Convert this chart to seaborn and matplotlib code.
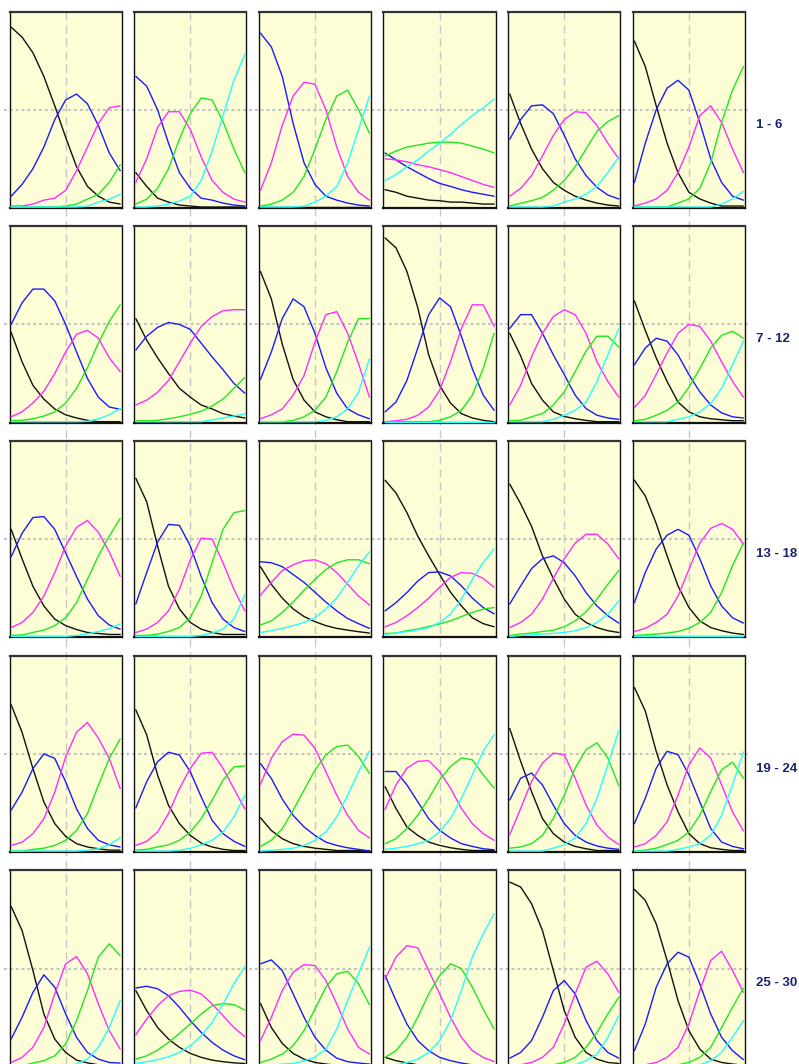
import matplotlib
matplotlib.use('Agg')
import matplotlib.pyplot as plt
import seaborn as sns
from matplotlib.lines import Line2D
from matplotlib.patches import Rectangle

# ability grid shared by all 30 items
THETA = [-3.0, -2.4, -1.8, -1.2, -0.6, 0.0, 0.6, 1.2, 1.8, 2.4, 3.0]
ROW_LABELS = ['1 - 6', '7 - 12', '13 - 18', '19 - 24', '25 - 30']

# category response curves, one list per item (items 1..30)
BLACK = [
    [0.92, 0.87, 0.79, 0.67, 0.52, 0.36, 0.21, 0.11, 0.06, 0.03, 0.02],
    [0.18, 0.11, 0.05, 0.03, 0.015, 0.01, 0.005, 0.005, 0.005, 0.005, 0.005],
    [0.005, 0.005, 0.005, 0.005, 0.005, 0.005, 0.005, 0.005, 0.005, 0.005, 0.005],
    [0.093, 0.08, 0.06, 0.05, 0.04, 0.037, 0.03, 0.03, 0.025, 0.02, 0.02],
    [0.58, 0.43, 0.30, 0.20, 0.13, 0.09, 0.06, 0.04, 0.025, 0.015, 0.01],
    [0.85, 0.72, 0.52, 0.33, 0.18, 0.08, 0.046, 0.025, 0.01, 0.01, 0.01],
    [0.46, 0.31, 0.19, 0.12, 0.07, 0.04, 0.024, 0.012, 0.005, 0.005, 0.005],
    [0.53, 0.42, 0.33, 0.25, 0.175, 0.13, 0.09, 0.07, 0.046, 0.034, 0.024],
    [0.77, 0.63, 0.40, 0.22, 0.115, 0.055, 0.03, 0.015, 0.005, 0.005, 0.005],
    [0.94, 0.89, 0.77, 0.585, 0.345, 0.19, 0.10, 0.046, 0.024, 0.012, 0.005],
    [0.455, 0.34, 0.20, 0.115, 0.055, 0.032, 0.02, 0.012, 0.005, 0.005, 0.005],
    [0.62, 0.47, 0.33, 0.21, 0.105, 0.055, 0.03, 0.02, 0.015, 0.01, 0.01],
    [0.55, 0.40, 0.26, 0.16, 0.093, 0.06, 0.04, 0.025, 0.02, 0.015, 0.015],
    [0.81, 0.69, 0.465, 0.26, 0.145, 0.076, 0.042, 0.025, 0.015, 0.015, 0.015],
    [0.36, 0.27, 0.20, 0.145, 0.106, 0.08, 0.06, 0.046, 0.037, 0.029, 0.022],
    [0.80, 0.735, 0.635, 0.515, 0.415, 0.32, 0.23, 0.16, 0.10, 0.07, 0.054],
    [0.78, 0.68, 0.565, 0.415, 0.30, 0.195, 0.118, 0.076, 0.05, 0.034, 0.025],
    [0.80, 0.72, 0.58, 0.415, 0.262, 0.152, 0.084, 0.05, 0.034, 0.022, 0.015],
    [0.75, 0.61, 0.425, 0.255, 0.145, 0.08, 0.043, 0.026, 0.017, 0.01, 0.01],
    [0.724, 0.597, 0.392, 0.238, 0.145, 0.085, 0.046, 0.026, 0.014, 0.008, 0.008],
    [0.175, 0.11, 0.068, 0.043, 0.029, 0.02, 0.014, 0.008, 0.008, 0.008, 0.008],
    [0.333, 0.222, 0.128, 0.085, 0.051, 0.034, 0.022, 0.014, 0.008, 0.008, 0.008],
    [0.629, 0.462, 0.308, 0.171, 0.094, 0.051, 0.029, 0.017, 0.008, 0.008, 0.008],
    [0.838, 0.718, 0.513, 0.342, 0.205, 0.094, 0.043, 0.022, 0.014, 0.008, 0.008],
    [0.816, 0.694, 0.49, 0.269, 0.141, 0.073, 0.034, 0.02, 0.01, 0.005, 0.005],
    [0.388, 0.286, 0.2, 0.141, 0.099, 0.068, 0.048, 0.034, 0.026, 0.02, 0.017],
    [0.323, 0.2, 0.119, 0.068, 0.039, 0.022, 0.014, 0.008, 0.008, 0.008, 0.008],
    [0.048, 0.031, 0.02, 0.01, 0.005, 0.005, 0.005, 0.005, 0.005, 0.005, 0.005],
    [0.94, 0.915, 0.83, 0.694, 0.49, 0.286, 0.15, 0.073, 0.039, 0.022, 0.017],
    [0.903, 0.847, 0.728, 0.541, 0.337, 0.184, 0.09, 0.039, 0.022, 0.014, 0.008],
]

BLUE = [
    [0.06, 0.12, 0.20, 0.31, 0.45, 0.55, 0.58, 0.53, 0.42, 0.28, 0.19],
    [0.67, 0.62, 0.50, 0.33, 0.18, 0.10, 0.05, 0.04, 0.025, 0.015, 0.01],
    [0.89, 0.82, 0.67, 0.43, 0.23, 0.12, 0.06, 0.04, 0.025, 0.015, 0.01],
    [0.28, 0.245, 0.21, 0.18, 0.15, 0.125, 0.11, 0.093, 0.08, 0.07, 0.06],
    [0.35, 0.45, 0.52, 0.525, 0.48, 0.37, 0.25, 0.165, 0.105, 0.066, 0.046],
    [0.13, 0.33, 0.50, 0.61, 0.65, 0.60, 0.435, 0.25, 0.13, 0.06, 0.04],
    [0.50, 0.61, 0.68, 0.68, 0.62, 0.50, 0.36, 0.225, 0.13, 0.08, 0.068],
    [0.37, 0.44, 0.485, 0.51, 0.50, 0.475, 0.405, 0.335, 0.27, 0.20, 0.15],
    [0.22, 0.36, 0.53, 0.63, 0.59, 0.455, 0.28, 0.15, 0.07, 0.04, 0.02],
    [0.055, 0.105, 0.215, 0.38, 0.55, 0.635, 0.59, 0.44, 0.275, 0.14, 0.063],
    [0.48, 0.55, 0.55, 0.455, 0.345, 0.245, 0.14, 0.072, 0.038, 0.024, 0.017],
    [0.295, 0.38, 0.43, 0.415, 0.345, 0.245, 0.157, 0.09, 0.05, 0.03, 0.024],
    [0.41, 0.53, 0.61, 0.615, 0.55, 0.43, 0.31, 0.195, 0.11, 0.063, 0.042],
    [0.17, 0.33, 0.485, 0.575, 0.57, 0.465, 0.31, 0.177, 0.093, 0.05, 0.03],
    [0.385, 0.38, 0.36, 0.32, 0.28, 0.23, 0.18, 0.135, 0.096, 0.07, 0.046],
    [0.135, 0.177, 0.228, 0.287, 0.33, 0.333, 0.313, 0.262, 0.20, 0.152, 0.12],
    [0.17, 0.262, 0.35, 0.40, 0.415, 0.38, 0.313, 0.228, 0.16, 0.11, 0.073],
    [0.177, 0.33, 0.45, 0.52, 0.55, 0.52, 0.40, 0.262, 0.16, 0.10, 0.073],
    [0.213, 0.305, 0.425, 0.50, 0.477, 0.358, 0.22, 0.12, 0.06, 0.037, 0.026],
    [0.225, 0.358, 0.46, 0.508, 0.494, 0.409, 0.281, 0.162, 0.094, 0.055, 0.029],
    [0.451, 0.375, 0.27, 0.187, 0.128, 0.085, 0.051, 0.034, 0.022, 0.014, 0.005],
    [0.41, 0.41, 0.342, 0.256, 0.17, 0.111, 0.072, 0.043, 0.029, 0.017, 0.012],
    [0.265, 0.376, 0.402, 0.342, 0.239, 0.145, 0.085, 0.051, 0.031, 0.02, 0.014],
    [0.145, 0.274, 0.427, 0.513, 0.496, 0.393, 0.256, 0.12, 0.051, 0.029, 0.017],
    [0.141, 0.252, 0.379, 0.468, 0.405, 0.269, 0.15, 0.073, 0.039, 0.022, 0.019],
    [0.401, 0.41, 0.397, 0.362, 0.303, 0.235, 0.175, 0.124, 0.085, 0.056, 0.036],
    [0.524, 0.544, 0.49, 0.371, 0.252, 0.15, 0.085, 0.044, 0.026, 0.019, 0.014],
    [0.464, 0.337, 0.218, 0.133, 0.082, 0.048, 0.031, 0.019, 0.01, 0.005, 0.005],
    [0.044, 0.073, 0.133, 0.252, 0.388, 0.439, 0.371, 0.235, 0.133, 0.073, 0.044],
    [0.082, 0.218, 0.405, 0.524, 0.583, 0.558, 0.422, 0.269, 0.15, 0.082, 0.036],
]

MAGENTA = [
    [0.01, 0.01, 0.02, 0.04, 0.05, 0.09, 0.19, 0.31, 0.43, 0.51, 0.52],
    [0.13, 0.25, 0.41, 0.49, 0.49, 0.40, 0.26, 0.14, 0.08, 0.045, 0.03],
    [0.09, 0.23, 0.42, 0.57, 0.64, 0.63, 0.50, 0.31, 0.16, 0.08, 0.04],
    [0.25, 0.245, 0.235, 0.22, 0.21, 0.195, 0.18, 0.16, 0.14, 0.12, 0.105],
    [0.06, 0.10, 0.165, 0.265, 0.37, 0.45, 0.49, 0.485, 0.42, 0.33, 0.25],
    [0.01, 0.025, 0.046, 0.09, 0.18, 0.31, 0.47, 0.52, 0.435, 0.30, 0.18],
    [0.03, 0.055, 0.10, 0.16, 0.25, 0.36, 0.45, 0.47, 0.43, 0.33, 0.26],
    [0.09, 0.115, 0.155, 0.215, 0.31, 0.405, 0.49, 0.54, 0.57, 0.575, 0.575],
    [0.02, 0.04, 0.07, 0.14, 0.24, 0.41, 0.55, 0.565, 0.455, 0.30, 0.13],
    [0.005, 0.01, 0.017, 0.038, 0.08, 0.165, 0.31, 0.48, 0.60, 0.60, 0.49],
    [0.09, 0.19, 0.335, 0.455, 0.54, 0.575, 0.55, 0.455, 0.31, 0.21, 0.13],
    [0.077, 0.14, 0.245, 0.355, 0.455, 0.50, 0.49, 0.415, 0.31, 0.21, 0.13],
    [0.05, 0.076, 0.127, 0.21, 0.33, 0.465, 0.56, 0.595, 0.535, 0.435, 0.31],
    [0.025, 0.042, 0.076, 0.135, 0.245, 0.395, 0.505, 0.50, 0.38, 0.245, 0.135],
    [0.215, 0.28, 0.34, 0.37, 0.39, 0.395, 0.375, 0.33, 0.27, 0.21, 0.165],
    [0.054, 0.076, 0.11, 0.152, 0.20, 0.255, 0.305, 0.33, 0.326, 0.30, 0.255],
    [0.05, 0.076, 0.118, 0.195, 0.30, 0.40, 0.48, 0.525, 0.525, 0.475, 0.40],
    [0.03, 0.046, 0.076, 0.118, 0.21, 0.345, 0.48, 0.555, 0.58, 0.55, 0.475],
    [0.034, 0.05, 0.094, 0.17, 0.305, 0.485, 0.61, 0.66, 0.58, 0.477, 0.323],
    [0.034, 0.055, 0.102, 0.196, 0.323, 0.426, 0.503, 0.508, 0.426, 0.323, 0.22],
    [0.344, 0.477, 0.562, 0.60, 0.595, 0.528, 0.409, 0.29, 0.187, 0.11, 0.072],
    [0.217, 0.342, 0.427, 0.462, 0.465, 0.41, 0.325, 0.222, 0.145, 0.094, 0.06],
    [0.089, 0.222, 0.359, 0.453, 0.504, 0.496, 0.376, 0.239, 0.137, 0.077, 0.038],
    [0.026, 0.043, 0.085, 0.154, 0.29, 0.444, 0.53, 0.479, 0.342, 0.205, 0.108],
    [0.022, 0.048, 0.099, 0.2, 0.371, 0.524, 0.561, 0.473, 0.32, 0.184, 0.09],
    [0.163, 0.243, 0.311, 0.362, 0.384, 0.39, 0.371, 0.32, 0.26, 0.2, 0.153],
    [0.133, 0.252, 0.388, 0.481, 0.52, 0.515, 0.439, 0.32, 0.192, 0.099, 0.065],
    [0.447, 0.558, 0.617, 0.605, 0.49, 0.371, 0.252, 0.15, 0.082, 0.048, 0.027],
    [0.005, 0.01, 0.022, 0.048, 0.099, 0.218, 0.371, 0.507, 0.537, 0.473, 0.379],
    [0.005, 0.01, 0.022, 0.048, 0.099, 0.218, 0.388, 0.541, 0.588, 0.49, 0.379],
]

GREEN = [
    [0.005, 0.005, 0.005, 0.005, 0.005, 0.01, 0.02, 0.045, 0.07, 0.13, 0.22],
    [0.02, 0.045, 0.10, 0.20, 0.35, 0.48, 0.56, 0.55, 0.44, 0.30, 0.18],
    [0.01, 0.02, 0.04, 0.08, 0.16, 0.30, 0.45, 0.57, 0.60, 0.50, 0.38],
    [0.265, 0.29, 0.31, 0.32, 0.33, 0.335, 0.335, 0.33, 0.315, 0.30, 0.28],
    [0.01, 0.024, 0.037, 0.054, 0.09, 0.14, 0.21, 0.30, 0.39, 0.44, 0.47],
    [0.005, 0.005, 0.005, 0.005, 0.025, 0.046, 0.10, 0.23, 0.435, 0.60, 0.72],
    [0.01, 0.012, 0.02, 0.034, 0.055, 0.10, 0.175, 0.28, 0.405, 0.515, 0.60],
    [0.01, 0.01, 0.012, 0.02, 0.03, 0.043, 0.058, 0.085, 0.12, 0.175, 0.23],
    [0.005, 0.005, 0.005, 0.012, 0.03, 0.063, 0.13, 0.26, 0.41, 0.53, 0.53],
    [0.005, 0.005, 0.005, 0.005, 0.005, 0.012, 0.03, 0.063, 0.14, 0.275, 0.455],
    [0.01, 0.012, 0.03, 0.046, 0.09, 0.157, 0.26, 0.365, 0.44, 0.44, 0.385],
    [0.01, 0.017, 0.038, 0.063, 0.105, 0.18, 0.275, 0.38, 0.445, 0.465, 0.43],
    [0.01, 0.012, 0.025, 0.037, 0.06, 0.10, 0.177, 0.295, 0.415, 0.515, 0.605],
    [0.01, 0.01, 0.017, 0.03, 0.05, 0.10, 0.21, 0.38, 0.55, 0.635, 0.645],
    [0.063, 0.084, 0.127, 0.18, 0.24, 0.295, 0.345, 0.38, 0.395, 0.395, 0.375],
    [0.02, 0.022, 0.034, 0.042, 0.056, 0.068, 0.084, 0.106, 0.127, 0.144, 0.152],
    [0.01, 0.017, 0.022, 0.03, 0.037, 0.054, 0.084, 0.13, 0.195, 0.27, 0.34],
    [0.01, 0.013, 0.017, 0.022, 0.03, 0.046, 0.076, 0.127, 0.228, 0.365, 0.48],
    [0.005, 0.005, 0.014, 0.02, 0.034, 0.06, 0.11, 0.196, 0.34, 0.477, 0.575],
    [0.01, 0.014, 0.026, 0.037, 0.06, 0.102, 0.17, 0.264, 0.366, 0.434, 0.438],
    [0.029, 0.06, 0.119, 0.213, 0.315, 0.418, 0.494, 0.537, 0.545, 0.486, 0.40],
    [0.043, 0.068, 0.12, 0.188, 0.273, 0.368, 0.436, 0.479, 0.47, 0.393, 0.325],
    [0.02, 0.026, 0.043, 0.085, 0.171, 0.29, 0.427, 0.521, 0.556, 0.479, 0.338],
    [0.005, 0.01, 0.02, 0.038, 0.06, 0.103, 0.188, 0.308, 0.419, 0.458, 0.376],
    [0.005, 0.005, 0.019, 0.031, 0.056, 0.116, 0.235, 0.388, 0.558, 0.626, 0.566],
    [0.039, 0.056, 0.085, 0.124, 0.17, 0.218, 0.269, 0.311, 0.322, 0.316, 0.289],
    [0.022, 0.039, 0.065, 0.107, 0.184, 0.294, 0.405, 0.473, 0.486, 0.422, 0.316],
    [0.048, 0.082, 0.15, 0.252, 0.371, 0.464, 0.524, 0.5, 0.405, 0.294, 0.192],
    [0.005, 0.005, 0.005, 0.005, 0.01, 0.022, 0.048, 0.099, 0.175, 0.269, 0.354],
    [0.005, 0.005, 0.005, 0.005, 0.01, 0.022, 0.048, 0.099, 0.2, 0.303, 0.4],
]

CYAN = [
    [0.005, 0.005, 0.005, 0.005, 0.005, 0.005, 0.005, 0.01, 0.03, 0.045, 0.07],
    [0.005, 0.005, 0.01, 0.02, 0.035, 0.06, 0.14, 0.29, 0.47, 0.65, 0.78],
    [0.005, 0.005, 0.005, 0.005, 0.01, 0.03, 0.06, 0.11, 0.23, 0.40, 0.57],
    [0.14, 0.17, 0.21, 0.245, 0.29, 0.33, 0.375, 0.425, 0.47, 0.51, 0.555],
    [0.005, 0.005, 0.005, 0.005, 0.01, 0.03, 0.046, 0.07, 0.11, 0.18, 0.26],
    [0.005, 0.005, 0.005, 0.005, 0.005, 0.005, 0.005, 0.005, 0.02, 0.046, 0.085],
    [0.005, 0.005, 0.005, 0.005, 0.005, 0.005, 0.005, 0.007, 0.02, 0.04, 0.072],
    [0.005, 0.005, 0.005, 0.005, 0.005, 0.005, 0.005, 0.014, 0.024, 0.034, 0.045],
    [0.005, 0.005, 0.005, 0.005, 0.005, 0.005, 0.012, 0.03, 0.07, 0.155, 0.325],
    [0.005, 0.005, 0.005, 0.005, 0.005, 0.005, 0.005, 0.005, 0.005, 0.005, 0.005],
    [0.005, 0.005, 0.005, 0.005, 0.017, 0.038, 0.063, 0.105, 0.21, 0.345, 0.48],
    [0.005, 0.005, 0.005, 0.005, 0.017, 0.03, 0.055, 0.097, 0.175, 0.295, 0.415],
    [0.005, 0.005, 0.005, 0.005, 0.005, 0.005, 0.01, 0.018, 0.03, 0.045, 0.068],
    [0.005, 0.005, 0.005, 0.005, 0.005, 0.005, 0.01, 0.022, 0.042, 0.093, 0.215],
    [0.025, 0.034, 0.046, 0.06, 0.076, 0.10, 0.145, 0.20, 0.28, 0.365, 0.435],
    [0.015, 0.022, 0.029, 0.039, 0.05, 0.076, 0.118, 0.194, 0.296, 0.38, 0.45],
    [0.005, 0.01, 0.013, 0.017, 0.02, 0.025, 0.034, 0.05, 0.076, 0.118, 0.186],
    [0.005, 0.005, 0.005, 0.005, 0.005, 0.005, 0.005, 0.005, 0.005, 0.005, 0.005],
    [0.005, 0.005, 0.005, 0.005, 0.005, 0.005, 0.005, 0.009, 0.017, 0.037, 0.073],
    [0.005, 0.005, 0.005, 0.005, 0.009, 0.02, 0.037, 0.06, 0.102, 0.179, 0.29],
    [0.005, 0.009, 0.014, 0.02, 0.034, 0.06, 0.102, 0.179, 0.29, 0.409, 0.515],
    [0.014, 0.02, 0.029, 0.043, 0.06, 0.103, 0.171, 0.274, 0.393, 0.513, 0.598],
    [0.005, 0.005, 0.005, 0.005, 0.02, 0.038, 0.072, 0.145, 0.274, 0.444, 0.619],
    [0.005, 0.005, 0.005, 0.005, 0.014, 0.026, 0.043, 0.085, 0.188, 0.342, 0.509],
    [0.005, 0.005, 0.005, 0.005, 0.005, 0.005, 0.014, 0.039, 0.099, 0.2, 0.337],
    [0.017, 0.026, 0.036, 0.051, 0.073, 0.107, 0.158, 0.226, 0.32, 0.422, 0.51],
    [0.005, 0.005, 0.014, 0.017, 0.031, 0.048, 0.09, 0.192, 0.337, 0.473, 0.609],
    [0.005, 0.01, 0.022, 0.039, 0.073, 0.133, 0.235, 0.388, 0.558, 0.677, 0.779],
    [0.005, 0.005, 0.005, 0.005, 0.005, 0.005, 0.01, 0.031, 0.065, 0.15, 0.26],
    [0.005, 0.005, 0.005, 0.005, 0.005, 0.005, 0.01, 0.031, 0.073, 0.15, 0.235],
]

CURVES = [(BLACK, '#111111'), (BLUE, '#1a1aff'), (MAGENTA, '#ff2cff'),
          (GREEN, '#1ee81e'), (CYAN, '#22ffff')]

sns.set_style('white')

W, H = 799, 1064
fig = plt.figure(figsize=(W / 100, H / 100), dpi=100)
fig.patch.set_facecolor('white')

# panel layout in pixels
pw, ph = 112.3, 196.5
col_left = [9.5 + 124.65 * c for c in range(6)]
row_top = [11.5 + 214.7 * r for r in range(5)]

# vertical dashed guides through each column
for l in col_left:
    cx = (l + pw / 2) / W
    fig.add_artist(Line2D([cx, cx], [1 - row_top[0] / H, 0], transform=fig.transFigure,
                          color='#c8c8c8', lw=1.0, dashes=(5.8, 3.6), zorder=2))

for r, t in enumerate(row_top):
    # dotted guide through the middle of the row
    cy = 1 - (t + ph / 2) / H
    fig.add_artist(Line2D([4 / W, 750 / W], [cy, cy], transform=fig.transFigure,
                          color='#c4c4c4', lw=1.5, dashes=(1.4, 1.4), zorder=2))
    fig.text(756 / W, 1 - (t + 113) / H, ROW_LABELS[r], ha='left', va='center',
             fontsize=9.5, fontweight='bold', color='#1b2370',
             family=['Liberation Sans', 'DejaVu Sans'])

    for c, l in enumerate(col_left):
        i = r * 6 + c
        box = [l / W, 1 - (t + ph) / H, pw / W, ph / H]
        fig.add_artist(Rectangle((box[0], box[1]), box[2], box[3], transform=fig.transFigure,
                                 facecolor='#fdfdd6', edgecolor='none', zorder=1))
        ax = fig.add_axes(box, zorder=3)
        ax.set_facecolor('none')
        for series, col in CURVES:
            sns.lineplot(x=THETA, y=series[i], color=col, linewidth=1.0, ax=ax,
                         zorder=3, clip_on=False)
        ax.set_xlim(-3.09, 3.09)
        ax.set_ylim(0, 1)
        ax.set_xticks([])
        ax.set_yticks([])
        ax.set_xlabel('')
        ax.set_ylabel('')
        for side, sp in ax.spines.items():
            sp.set_visible(True)
            sp.set_color('#333333' if side == 'top' else '#111111')
            sp.set_linewidth(1.6 if side in ('top', 'bottom') else 1.0)

fig.savefig('out.png', dpi=100)
